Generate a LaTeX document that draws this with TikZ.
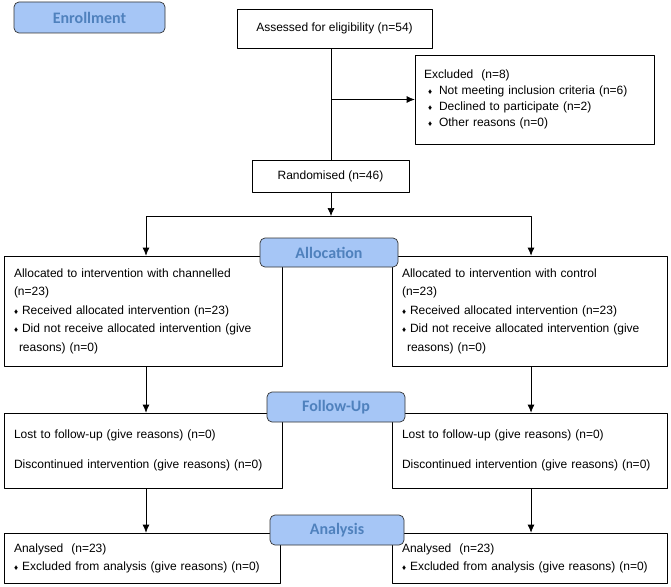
\documentclass[tikz,border=0pt]{standalone}
\usepackage{fontspec}
\setmainfont{Liberation Sans}
\newfontfamily\stagefont{Carlito}
\usetikzlibrary{positioning,arrows.meta}
\definecolor{stagefill}{HTML}{A6C6F6}
\definecolor{stagetext}{HTML}{4F81BD}
\newcommand{\dia}{\makebox[8pt][l]{\fontsize{8}{8}\selectfont ♦}}
\newcommand{\diagap}{\hspace*{4pt}\makebox[11pt][l]{\fontsize{8}{8}\selectfont ♦}}
\tikzset{
  box/.style={draw, line width=0.7pt, font=\fontsize{12}{14}\selectfont, inner sep=0pt},
  tbox/.style={box, align=left, inner xsep=10pt},
  stage/.style={draw=black!80, line width=0.7pt, fill=stagefill, rounded corners=5pt,
    text=stagetext, font=\stagefont\bfseries\fontsize{16}{16}\selectfont, inner sep=0pt}
}
\begin{document}
\begin{tikzpicture}[x=1pt, y=-1pt, line join=round, >={Latex[length=8pt,width=7pt]}]
  \useasboundingbox (0,0) rectangle (671,586);
  % stage labels and boxes
  \node[stage, minimum width=151, minimum height=31] (enrol) at (89.5,17.5) {Enrollment};
  \node[box, minimum width=195, minimum height=39] (assess) at (334.5,28.5) {Assessed for eligibility (n=54)};
  \node[tbox, minimum width=239, minimum height=89, text width=221, inner xsep=9pt, font=\fontsize{12}{16}\selectfont] (excl) at (534.5,99.5)
    {Excluded\ \ (n=8)\\ \diagap Not meeting inclusion criteria (n=6)\\ \diagap Declined to participate (n=2)\\ \diagap Other reasons (n=0)};
  \node[box, minimum width=157, minimum height=32] (rand) at (330.5,176) {Randomised (n=46)};
  \node[tbox, minimum width=278, minimum height=110, text width=258, font=\fontsize{12}{18.5}\selectfont] (allocL) at (143,311)
    {Allocated to intervention with channelled\\ (n=23)\\ \dia Received allocated intervention (n=23)\\ \dia Did not receive allocated intervention (give\\ \hspace*{5pt}reasons) (n=0)};
  \node[tbox, minimum width=275, minimum height=110, text width=255, font=\fontsize{12}{18.5}\selectfont] (allocR) at (529.5,311)
    {Allocated to intervention with control\\ (n=23)\\ \dia Received allocated intervention (n=23)\\ \dia Did not receive allocated intervention (give\\ \hspace*{5pt}reasons) (n=0)};
  \node[stage, minimum width=138, minimum height=29] (alloc) at (329,252.5) {Allocation};
  \node[tbox, minimum width=278, minimum height=75, text width=258, font=\fontsize{12}{30}\selectfont] (fupL) at (143,450.5)
    {Lost to follow-up (give reasons) (n=0)\\ Discontinued intervention (give reasons) (n=0)};
  \node[tbox, minimum width=275, minimum height=75, text width=255, font=\fontsize{12}{30}\selectfont] (fupR) at (529.5,450.5)
    {Lost to follow-up (give reasons) (n=0)\\ Discontinued intervention (give reasons) (n=0)};
  \node[stage, minimum width=138, minimum height=30] (fup) at (336,407) {Follow-Up};
  \node[tbox, minimum width=276, minimum height=50, text width=256, inner xsep=8pt, font=\fontsize{12}{18}\selectfont] (anaL) at (142,558)
    {Analysed\ \ (n=23)\\ \dia Excluded from analysis (give reasons) (n=0)};
  \node[tbox, minimum width=275, minimum height=50, text width=255, inner xsep=7pt, font=\fontsize{12}{18}\selectfont] (anaR) at (529.5,558)
    {Analysed\ \ (n=23)\\ \dia Excluded from analysis (give reasons) (n=0)};
  \node[stage, minimum width=134, minimum height=30] (ana) at (337,530) {Analysis};
  % connectors
  \coordinate (split) at (331,216);
  \draw[line width=0.7pt] (331,0 |- assess.south) -- (331,0 |- rand.north);
  \draw[line width=0.7pt, ->] (331,0 |- excl.west) -- (excl.west);
  \draw[line width=0.7pt, ->] (331,0 |- rand.south) -- (split);
  \draw[line width=0.7pt, ->] (split) -| (146,0 |- allocL.north);
  \draw[line width=0.7pt, ->] (split) -| (531,0 |- allocR.north);
  \draw[line width=0.7pt, ->] (146,0 |- allocL.south) -- (146,0 |- fupL.north);
  \draw[line width=0.7pt, ->] (531,0 |- allocR.south) -- (531,0 |- fupR.north);
  \draw[line width=0.7pt, ->] (146,0 |- fupL.south) -- (146,0 |- anaL.north);
  \draw[line width=0.7pt, ->] (531,0 |- fupR.south) -- (531,0 |- anaR.north);
\end{tikzpicture}
\end{document}
